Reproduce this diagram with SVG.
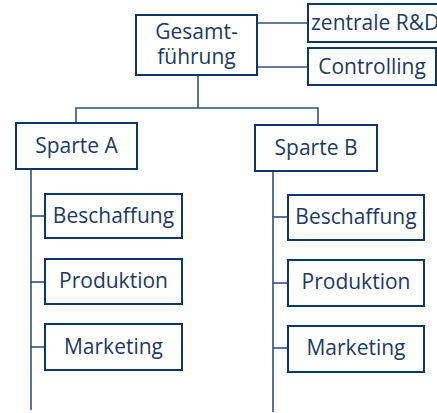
<svg xmlns="http://www.w3.org/2000/svg" width="437" height="413" viewBox="0 0 437 413">
  <style>
    .box { fill: #ffffff; stroke: #0f3764; stroke-width: 2; }
    .lbl { font-family: "Open Sans", "Noto Sans", sans-serif; font-size: 21px; fill: #1b3a5e; text-anchor: middle; }
    .con { fill: none; stroke: #2f5279; stroke-width: 1.6; }
  </style>
  <rect width="437" height="413" fill="#ffffff"/>

  <!-- connectors -->
  <g id="connectors" class="con">
    <path d="M257 23 H308"/>
    <path d="M257 67 H308"/>
    <path d="M198 75 V108"/>
    <path d="M76 123 V108 H318 V125"/>
    <path d="M31 169 V410"/>
    <path d="M31 216 H45"/>
    <path d="M31 282 H45"/>
    <path d="M31 347 H45"/>
    <path d="M273 171 V412"/>
    <path d="M273 217 H288"/>
    <path d="M273 283 H288"/>
    <path d="M273 348 H288"/>
  </g>

  <g id="gesamtfuehrung">
    <rect class="box" x="136" y="15" width="121" height="60"/>
    <text class="lbl" x="196.5" y="39">Gesamt-</text>
    <text class="lbl" x="196.5" y="64">führung</text>
  </g>
  <g id="zentrale-rd">
    <rect class="box" x="308" y="4" width="135" height="38"/>
    <text class="lbl" x="311" y="30" style="text-anchor:start">zentrale R&amp;D</text>
  </g>
  <g id="controlling">
    <rect class="box" x="308" y="48" width="128" height="37"/>
    <text class="lbl" x="372" y="74">Controlling</text>
  </g>

  <g id="sparte-a">
    <rect class="box" x="16" y="123" width="121" height="46"/>
    <text class="lbl" x="76.5" y="153">Sparte A</text>
  </g>
  <g id="beschaffung-a">
    <rect class="box" x="45" y="194" width="137" height="44"/>
    <text class="lbl" x="113.5" y="223">Beschaffung</text>
  </g>
  <g id="produktion-a">
    <rect class="box" x="45" y="259" width="137" height="45"/>
    <text class="lbl" x="113.5" y="288">Produktion</text>
  </g>
  <g id="marketing-a">
    <rect class="box" x="45" y="324" width="137" height="46"/>
    <text class="lbl" x="113.5" y="354">Marketing</text>
  </g>

  <g id="sparte-b">
    <rect class="box" x="255" y="125" width="122" height="46"/>
    <text class="lbl" x="316" y="155">Sparte B</text>
  </g>
  <g id="beschaffung-b">
    <rect class="box" x="288" y="195" width="136" height="45"/>
    <text class="lbl" x="356" y="224">Beschaffung</text>
  </g>
  <g id="produktion-b">
    <rect class="box" x="288" y="260" width="136" height="46"/>
    <text class="lbl" x="356" y="289">Produktion</text>
  </g>
  <g id="marketing-b">
    <rect class="box" x="288" y="326" width="136" height="46"/>
    <text class="lbl" x="356" y="355">Marketing</text>
  </g>
</svg>
